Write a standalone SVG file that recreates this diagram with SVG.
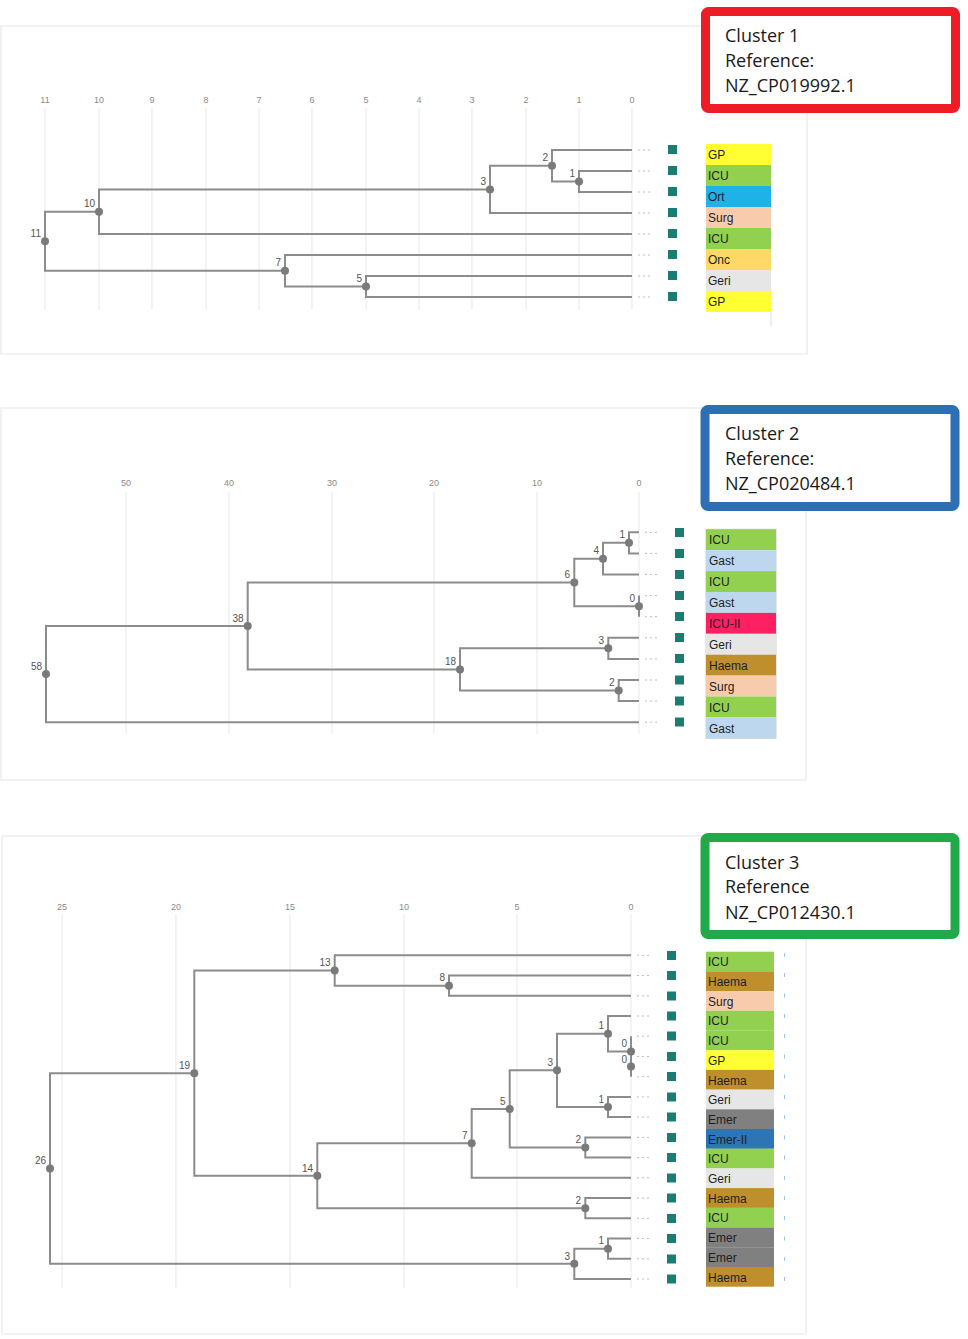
<svg xmlns="http://www.w3.org/2000/svg" width="968" height="1339" viewBox="0 0 968 1339">
<style>
.panel{fill:none;stroke:#e9e9e9;stroke-width:1.2}
.grid{stroke:#ececec;stroke-width:1.2}
.ax{font-family:"Liberation Sans",Arial,sans-serif;font-size:9px;fill:#8a8a8a;text-anchor:middle}
.br{fill:none;stroke:#8c8c8c;stroke-width:2}
.dot{fill:#7a7a7a}
.nl{font-family:"Liberation Sans",Arial,sans-serif;font-size:10px;fill:#555;text-anchor:end}
.dd{stroke:#bdbdbd;stroke-width:1;stroke-dasharray:2 3}
.sq{fill:#1b7c72}
.lab{font-family:"Liberation Sans",Arial,sans-serif;font-size:12px;fill:#1e1e1e}
.box{fill:#fff;stroke-width:9}
.bt{font-family:"Open Sans","Liberation Sans",sans-serif;font-size:18px;fill:#1a1a1a}
.tick{stroke:#9cc3e6;stroke-width:1}
.GP{fill:#ffff33}.ICU{fill:#92d050}.Ort{fill:#20b0ea}.Surg{fill:#f8cbad}.Onc{fill:#ffd966}.Geri{fill:#e7e6e6}.Gast{fill:#bdd7ee}.ICUII{fill:#ff2063}.Haema{fill:#bf8f2e}.Emer{fill:#808080}.EmerII{fill:#2e75b6}
</style>

<!-- ============ CLUSTER 1 ============ -->
<g id="panel1">
<rect class="panel" x="1" y="26" width="806" height="328"/>
<g id="axis1">
<line class="grid" x1="45" y1="108" x2="45" y2="310"/><line class="grid" x1="99" y1="108" x2="99" y2="310"/><line class="grid" x1="152" y1="108" x2="152" y2="310"/><line class="grid" x1="206" y1="108" x2="206" y2="310"/><line class="grid" x1="259" y1="108" x2="259" y2="310"/><line class="grid" x1="312" y1="108" x2="312" y2="310"/><line class="grid" x1="366" y1="108" x2="366" y2="310"/><line class="grid" x1="419" y1="108" x2="419" y2="310"/><line class="grid" x1="472" y1="108" x2="472" y2="310"/><line class="grid" x1="526" y1="108" x2="526" y2="310"/><line class="grid" x1="579" y1="108" x2="579" y2="310"/><line class="grid" x1="632" y1="108" x2="632" y2="310"/>
<text class="ax" x="45" y="103">11</text><text class="ax" x="99" y="103">10</text><text class="ax" x="152" y="103">9</text><text class="ax" x="206" y="103">8</text><text class="ax" x="259" y="103">7</text><text class="ax" x="312" y="103">6</text><text class="ax" x="366" y="103">5</text><text class="ax" x="419" y="103">4</text><text class="ax" x="472" y="103">3</text><text class="ax" x="526" y="103">2</text><text class="ax" x="579" y="103">1</text><text class="ax" x="632" y="103">0</text>
</g>
<line x1="771" y1="312" x2="771" y2="326" stroke="#dcdcdc" stroke-width="1"/>
</g>
<g id="connectors1">
<path class="br" d="M632 171H579V192H632"/>
<path class="br" d="M632 150H552V181.5H579"/>
<path class="br" d="M552 165.75H490V213H632"/>
<path class="br" d="M490 189.4H99V234H632"/>
<path class="br" d="M632 276H366V297H632"/>
<path class="br" d="M632 255H285V286.5H366"/>
<path class="br" d="M99 211.7H45V270.75H285"/>
</g>
<g id="nodes1">
<g id="c1n1"><circle class="dot" cx="579" cy="181.5" r="4"/><text class="nl" x="575" y="177">1</text></g>
<g id="c1n2"><circle class="dot" cx="552" cy="165.75" r="4"/><text class="nl" x="548" y="161">2</text></g>
<g id="c1n3"><circle class="dot" cx="490" cy="189.4" r="4"/><text class="nl" x="486" y="185">3</text></g>
<g id="c1n10"><circle class="dot" cx="99" cy="211.7" r="4"/><text class="nl" x="95" y="207">10</text></g>
<g id="c1n5"><circle class="dot" cx="366" cy="286.5" r="4"/><text class="nl" x="362" y="282">5</text></g>
<g id="c1n7"><circle class="dot" cx="285" cy="270.75" r="4"/><text class="nl" x="281" y="266">7</text></g>
<g id="c1n11"><circle class="dot" cx="45" cy="241.2" r="4"/><text class="nl" x="41" y="237">11</text></g>
</g>
<g id="leaves1">
<g id="c1l0"><line class="dd" x1="638" y1="150" x2="653" y2="150"/><rect class="sq" x="668" y="145" width="9" height="9"/><rect class="GP" x="706" y="144" width="65" height="21"/><text class="lab" x="708" y="159">GP</text></g>
<g id="c1l1"><line class="dd" x1="638" y1="171" x2="653" y2="171"/><rect class="sq" x="668" y="166" width="9" height="9"/><rect class="ICU" x="706" y="165" width="65" height="21"/><text class="lab" x="708" y="180">ICU</text></g>
<g id="c1l2"><line class="dd" x1="638" y1="192" x2="653" y2="192"/><rect class="sq" x="668" y="187" width="9" height="9"/><rect class="Ort" x="706" y="186" width="65" height="21"/><text class="lab" x="708" y="201">Ort</text></g>
<g id="c1l3"><line class="dd" x1="638" y1="213" x2="653" y2="213"/><rect class="sq" x="668" y="208" width="9" height="9"/><rect class="Surg" x="706" y="207" width="65" height="21"/><text class="lab" x="708" y="222">Surg</text></g>
<g id="c1l4"><line class="dd" x1="638" y1="234" x2="653" y2="234"/><rect class="sq" x="668" y="229" width="9" height="9"/><rect class="ICU" x="706" y="228" width="65" height="21"/><text class="lab" x="708" y="243">ICU</text></g>
<g id="c1l5"><line class="dd" x1="638" y1="255" x2="653" y2="255"/><rect class="sq" x="668" y="250" width="9" height="9"/><rect class="Onc" x="706" y="249" width="65" height="21"/><text class="lab" x="708" y="264">Onc</text></g>
<g id="c1l6"><line class="dd" x1="638" y1="276" x2="653" y2="276"/><rect class="sq" x="668" y="271" width="9" height="9"/><rect class="Geri" x="706" y="270" width="65" height="21"/><text class="lab" x="708" y="285">Geri</text></g>
<g id="c1l7"><line class="dd" x1="638" y1="297" x2="653" y2="297"/><rect class="sq" x="668" y="292" width="9" height="9"/><rect class="GP" x="706" y="291" width="65" height="21"/><text class="lab" x="708" y="306">GP</text></g>
</g>
<g id="box1">
<rect class="box" x="705.5" y="11.5" width="250" height="97" rx="3" stroke="#ee1c24"/>
<text class="bt" x="725" y="42">Cluster 1</text>
<text class="bt" x="725" y="67">Reference:</text>
<text class="bt" x="725" y="92">NZ_CP019992.1</text>
</g>

<!-- ============ CLUSTER 2 ============ -->
<g id="panel2">
<rect class="panel" x="1" y="408" width="805" height="372"/>
<g id="axis2">
<line class="grid" x1="126" y1="492" x2="126" y2="734"/><line class="grid" x1="229" y1="492" x2="229" y2="734"/><line class="grid" x1="332" y1="492" x2="332" y2="734"/><line class="grid" x1="434" y1="492" x2="434" y2="734"/><line class="grid" x1="537" y1="492" x2="537" y2="734"/><line class="grid" x1="639" y1="492" x2="639" y2="734"/>
<text class="ax" x="126" y="486">50</text><text class="ax" x="229" y="486">40</text><text class="ax" x="332" y="486">30</text><text class="ax" x="434" y="486">20</text><text class="ax" x="537" y="486">10</text><text class="ax" x="639" y="486">0</text>
</g>
</g>
<g id="connectors2">
<path class="br" d="M639 532.3H629V553.4H639"/>
<path class="br" d="M629 542.85H603V574.5H639"/>
<path class="br" d="M639 595.6V616.7"/>
<path class="br" d="M603 558.7H574.3V606.15H639"/>
<path class="br" d="M639 637.8H608.3V658.9H639"/>
<path class="br" d="M639 680H618.7V701.1H639"/>
<path class="br" d="M608.3 648.35H460V690.55H618.7"/>
<path class="br" d="M574.3 582.4H247.7V669.45H460"/>
<path class="br" d="M247.7 625.9H46V722.2H639"/>
</g>
<g id="nodes2">
<g id="c2n1"><circle class="dot" cx="629" cy="542.85" r="4"/><text class="nl" x="625" y="538">1</text></g>
<g id="c2n4"><circle class="dot" cx="603" cy="558.7" r="4"/><text class="nl" x="599" y="554">4</text></g>
<g id="c2n0"><circle class="dot" cx="639" cy="606.15" r="4"/><text class="nl" x="635" y="602">0</text></g>
<g id="c2n6"><circle class="dot" cx="574.3" cy="582.4" r="4"/><text class="nl" x="570" y="578">6</text></g>
<g id="c2n3"><circle class="dot" cx="608.3" cy="648.35" r="4"/><text class="nl" x="604" y="644">3</text></g>
<g id="c2n2"><circle class="dot" cx="618.7" cy="690.55" r="4"/><text class="nl" x="614.5" y="686">2</text></g>
<g id="c2n18"><circle class="dot" cx="460" cy="669.45" r="4"/><text class="nl" x="456" y="665">18</text></g>
<g id="c2n38"><circle class="dot" cx="247.7" cy="625.9" r="4"/><text class="nl" x="243.5" y="621.5">38</text></g>
<g id="c2n58"><circle class="dot" cx="46" cy="674.05" r="4"/><text class="nl" x="42" y="669.5">58</text></g>
</g>
<g id="leaves2">
<rect x="706" y="529.3" width="70" height="209" fill="none" stroke="#cfcfcf" stroke-width="1"/>
<g id="c2l0"><line class="dd" x1="645" y1="532.3" x2="660" y2="532.3"/><rect class="sq" x="675" y="528" width="9" height="9"/><rect class="ICU" x="706" y="529.3" width="70" height="20.9"/><text class="lab" x="709" y="544">ICU</text></g>
<g id="c2l1"><line class="dd" x1="645" y1="553.4" x2="660" y2="553.4"/><rect class="sq" x="675" y="549" width="9" height="9"/><rect class="Gast" x="706" y="550.2" width="70" height="20.9"/><text class="lab" x="709" y="565">Gast</text></g>
<g id="c2l2"><line class="dd" x1="645" y1="574.5" x2="660" y2="574.5"/><rect class="sq" x="675" y="570" width="9" height="9"/><rect class="ICU" x="706" y="571.1" width="70" height="20.9"/><text class="lab" x="709" y="586">ICU</text></g>
<g id="c2l3"><line class="dd" x1="645" y1="595.6" x2="660" y2="595.6"/><rect class="sq" x="675" y="591" width="9" height="9"/><rect class="Gast" x="706" y="592" width="70" height="20.9"/><text class="lab" x="709" y="607">Gast</text></g>
<g id="c2l4"><line class="dd" x1="645" y1="616.7" x2="660" y2="616.7"/><rect class="sq" x="675" y="612" width="9" height="9"/><rect class="ICUII" x="706" y="612.9" width="70" height="20.9"/><text class="lab" x="709" y="628">ICU-II</text></g>
<g id="c2l5"><line class="dd" x1="645" y1="637.8" x2="660" y2="637.8"/><rect class="sq" x="675" y="633" width="9" height="9"/><rect class="Geri" x="706" y="633.8" width="70" height="20.9"/><text class="lab" x="709" y="649">Geri</text></g>
<g id="c2l6"><line class="dd" x1="645" y1="658.9" x2="660" y2="658.9"/><rect class="sq" x="675" y="654" width="9" height="9"/><rect class="Haema" x="706" y="654.7" width="70" height="20.9"/><text class="lab" x="709" y="670">Haema</text></g>
<g id="c2l7"><line class="dd" x1="645" y1="680" x2="660" y2="680"/><rect class="sq" x="675" y="675.5" width="9" height="9"/><rect class="Surg" x="706" y="675.6" width="70" height="20.9"/><text class="lab" x="709" y="691">Surg</text></g>
<g id="c2l8"><line class="dd" x1="645" y1="701.1" x2="660" y2="701.1"/><rect class="sq" x="675" y="696.5" width="9" height="9"/><rect class="ICU" x="706" y="696.5" width="70" height="20.9"/><text class="lab" x="709" y="712">ICU</text></g>
<g id="c2l9"><line class="dd" x1="645" y1="722.2" x2="660" y2="722.2"/><rect class="sq" x="675" y="717.5" width="9" height="9"/><rect class="Gast" x="706" y="717.4" width="70" height="20.9"/><text class="lab" x="709" y="733">Gast</text></g>
</g>
<g id="box2">
<rect class="box" x="705" y="409.5" width="250" height="97" rx="3" stroke="#2e6fb4"/>
<text class="bt" x="725" y="440">Cluster 2</text>
<text class="bt" x="725" y="465">Reference:</text>
<text class="bt" x="725" y="490">NZ_CP020484.1</text>
</g>

<!-- ============ CLUSTER 3 ============ -->
<g id="panel3">
<rect class="panel" x="2" y="836" width="804" height="498"/>
<g id="axis3">
<line class="grid" x1="62" y1="914" x2="62" y2="1288"/><line class="grid" x1="176" y1="914" x2="176" y2="1288"/><line class="grid" x1="290" y1="914" x2="290" y2="1288"/><line class="grid" x1="404" y1="914" x2="404" y2="1288"/><line class="grid" x1="517" y1="914" x2="517" y2="1288"/><line class="grid" x1="631" y1="914" x2="631" y2="1288"/>
<text class="ax" x="62" y="910">25</text><text class="ax" x="176" y="910">20</text><text class="ax" x="290" y="910">15</text><text class="ax" x="404" y="910">10</text><text class="ax" x="517" y="910">5</text><text class="ax" x="631" y="910">0</text>
</g>
</g>
<g id="connectors3">
<path class="br" d="M631 975.5H449V995.8H631"/>
<path class="br" d="M631 955.3H334.7V985.65H449"/>
<path class="br" d="M631 1036.2V1076.7"/>
<path class="br" d="M631 1016H608V1051.4H631"/>
<path class="br" d="M631 1096.9H608V1117.1H631"/>
<path class="br" d="M608 1033.7H557V1107H608"/>
<path class="br" d="M631 1137.4H585.3V1157.6H631"/>
<path class="br" d="M557 1070.35H509.7V1147.5H585.3"/>
<path class="br" d="M509.7 1108.9H471.7V1177.8H631"/>
<path class="br" d="M631 1198.1H585.3V1218.3H631"/>
<path class="br" d="M471.7 1143.35H317.3V1208.2H585.3"/>
<path class="br" d="M334.7 970.5H194.3V1175.8H317.3"/>
<path class="br" d="M631 1238.5H608V1258.8H631"/>
<path class="br" d="M608 1248.65H574.3V1279H631"/>
<path class="br" d="M194.3 1073.15H50V1263.8H574.3"/>
</g>
<g id="nodes3">
<g id="c3n13"><circle class="dot" cx="334.7" cy="970.5" r="4"/><text class="nl" x="330.5" y="966">13</text></g>
<g id="c3n8"><circle class="dot" cx="449" cy="985.65" r="4"/><text class="nl" x="445" y="981">8</text></g>
<g id="c3n1a"><circle class="dot" cx="608" cy="1033.7" r="4"/><text class="nl" x="604" y="1029">1</text></g>
<g id="c3n0a"><circle class="dot" cx="631" cy="1051.4" r="4"/><text class="nl" x="627" y="1047">0</text></g>
<g id="c3n0b"><circle class="dot" cx="631" cy="1066.6" r="4"/><text class="nl" x="627" y="1062.5">0</text></g>
<g id="c3n1b"><circle class="dot" cx="608" cy="1107" r="4"/><text class="nl" x="604" y="1102.5">1</text></g>
<g id="c3n3a"><circle class="dot" cx="557" cy="1070.35" r="4"/><text class="nl" x="553" y="1066">3</text></g>
<g id="c3n2a"><circle class="dot" cx="585.3" cy="1147.5" r="4"/><text class="nl" x="581" y="1143">2</text></g>
<g id="c3n5"><circle class="dot" cx="509.7" cy="1108.9" r="4"/><text class="nl" x="505.5" y="1104.5">5</text></g>
<g id="c3n7"><circle class="dot" cx="471.7" cy="1143.35" r="4"/><text class="nl" x="467.5" y="1139">7</text></g>
<g id="c3n2b"><circle class="dot" cx="585.3" cy="1208.2" r="4"/><text class="nl" x="581" y="1204">2</text></g>
<g id="c3n14"><circle class="dot" cx="317.3" cy="1175.8" r="4"/><text class="nl" x="313" y="1171.5">14</text></g>
<g id="c3n19"><circle class="dot" cx="194.3" cy="1073.15" r="4"/><text class="nl" x="190" y="1069">19</text></g>
<g id="c3n1c"><circle class="dot" cx="608" cy="1248.65" r="4"/><text class="nl" x="604" y="1244">1</text></g>
<g id="c3n3b"><circle class="dot" cx="574.3" cy="1263.8" r="4"/><text class="nl" x="570" y="1259.5">3</text></g>
<g id="c3n26"><circle class="dot" cx="50" cy="1168.5" r="4"/><text class="nl" x="46" y="1164">26</text></g>
</g>
<g id="leaves3">
<g id="c3l0"><line class="dd" x1="637" y1="955.3" x2="652" y2="955.3"/><rect class="sq" x="667" y="951" width="9" height="9"/><rect class="ICU" x="706" y="951.7" width="68" height="19.8"/><text class="lab" x="708" y="966">ICU</text><line class="tick" x1="784.5" y1="953" x2="784.5" y2="957"/></g>
<g id="c3l1"><line class="dd" x1="637" y1="975.5" x2="652" y2="975.5"/><rect class="sq" x="667" y="971" width="9" height="9"/><rect class="Haema" x="706" y="971.4" width="68" height="19.8"/><text class="lab" x="708" y="986">Haema</text><line class="tick" x1="784.5" y1="973" x2="784.5" y2="977"/></g>
<g id="c3l2"><line class="dd" x1="637" y1="995.8" x2="652" y2="995.8"/><rect class="sq" x="667" y="991.5" width="9" height="9"/><rect class="Surg" x="706" y="991.1" width="68" height="19.8"/><text class="lab" x="708" y="1006">Surg</text><line class="tick" x1="784.5" y1="993.5" x2="784.5" y2="997.5"/></g>
<g id="c3l3"><line class="dd" x1="637" y1="1016" x2="652" y2="1016"/><rect class="sq" x="667" y="1011.5" width="9" height="9"/><rect class="ICU" x="706" y="1010.8" width="68" height="19.8"/><text class="lab" x="708" y="1025">ICU</text><line class="tick" x1="784.5" y1="1014" x2="784.5" y2="1018"/></g>
<g id="c3l4"><line class="dd" x1="637" y1="1036.2" x2="652" y2="1036.2"/><rect class="sq" x="667" y="1031.5" width="9" height="9"/><rect class="ICU" x="706" y="1030.5" width="68" height="19.8"/><text class="lab" x="708" y="1045">ICU</text><line class="tick" x1="784.5" y1="1034" x2="784.5" y2="1038"/></g>
<g id="c3l5"><line class="dd" x1="637" y1="1056.5" x2="652" y2="1056.5"/><rect class="sq" x="667" y="1052" width="9" height="9"/><rect class="GP" x="706" y="1050.2" width="68" height="19.8"/><text class="lab" x="708" y="1065">GP</text><line class="tick" x1="784.5" y1="1054.5" x2="784.5" y2="1058.5"/></g>
<g id="c3l6"><line class="dd" x1="637" y1="1076.7" x2="652" y2="1076.7"/><rect class="sq" x="667" y="1072" width="9" height="9"/><rect class="Haema" x="706" y="1069.9" width="68" height="19.8"/><text class="lab" x="708" y="1085">Haema</text><line class="tick" x1="784.5" y1="1074.5" x2="784.5" y2="1078.5"/></g>
<g id="c3l7"><line class="dd" x1="637" y1="1096.9" x2="652" y2="1096.9"/><rect class="sq" x="667" y="1092.5" width="9" height="9"/><rect class="Geri" x="706" y="1089.6" width="68" height="19.8"/><text class="lab" x="708" y="1104">Geri</text><line class="tick" x1="784.5" y1="1095" x2="784.5" y2="1099"/></g>
<g id="c3l8"><line class="dd" x1="637" y1="1117.1" x2="652" y2="1117.1"/><rect class="sq" x="667" y="1112.5" width="9" height="9"/><rect class="Emer" x="706" y="1109.3" width="68" height="19.8"/><text class="lab" x="708" y="1124">Emer</text><line class="tick" x1="784.5" y1="1115" x2="784.5" y2="1119"/></g>
<g id="c3l9"><line class="dd" x1="637" y1="1137.4" x2="652" y2="1137.4"/><rect class="sq" x="667" y="1133" width="9" height="9"/><rect class="EmerII" x="706" y="1129" width="68" height="19.8"/><text class="lab" x="708" y="1144">Emer-II</text><line class="tick" x1="784.5" y1="1135.5" x2="784.5" y2="1139.5"/></g>
<g id="c3l10"><line class="dd" x1="637" y1="1157.6" x2="652" y2="1157.6"/><rect class="sq" x="667" y="1153" width="9" height="9"/><rect class="ICU" x="706" y="1148.7" width="68" height="19.8"/><text class="lab" x="708" y="1163">ICU</text><line class="tick" x1="784.5" y1="1155.5" x2="784.5" y2="1159.5"/></g>
<g id="c3l11"><line class="dd" x1="637" y1="1177.8" x2="652" y2="1177.8"/><rect class="sq" x="667" y="1173.5" width="9" height="9"/><rect class="Geri" x="706" y="1168.4" width="68" height="19.8"/><text class="lab" x="708" y="1183">Geri</text><line class="tick" x1="784.5" y1="1176" x2="784.5" y2="1180"/></g>
<g id="c3l12"><line class="dd" x1="637" y1="1198.1" x2="652" y2="1198.1"/><rect class="sq" x="667" y="1193.5" width="9" height="9"/><rect class="Haema" x="706" y="1188.1" width="68" height="19.8"/><text class="lab" x="708" y="1203">Haema</text><line class="tick" x1="784.5" y1="1196" x2="784.5" y2="1200"/></g>
<g id="c3l13"><line class="dd" x1="637" y1="1218.3" x2="652" y2="1218.3"/><rect class="sq" x="667" y="1214" width="9" height="9"/><rect class="ICU" x="706" y="1207.8" width="68" height="19.8"/><text class="lab" x="708" y="1222">ICU</text><line class="tick" x1="784.5" y1="1216" x2="784.5" y2="1220"/></g>
<g id="c3l14"><line class="dd" x1="637" y1="1238.5" x2="652" y2="1238.5"/><rect class="sq" x="667" y="1234" width="9" height="9"/><rect class="Emer" x="706" y="1227.5" width="68" height="19.8"/><text class="lab" x="708" y="1242">Emer</text><line class="tick" x1="784.5" y1="1236.5" x2="784.5" y2="1240.5"/></g>
<g id="c3l15"><line class="dd" x1="637" y1="1258.8" x2="652" y2="1258.8"/><rect class="sq" x="667" y="1254.5" width="9" height="9"/><rect class="Emer" x="706" y="1247.2" width="68" height="19.8"/><text class="lab" x="708" y="1262">Emer</text><line class="tick" x1="784.5" y1="1257" x2="784.5" y2="1261"/></g>
<g id="c3l16"><line class="dd" x1="637" y1="1279" x2="652" y2="1279"/><rect class="sq" x="667" y="1274.5" width="9" height="9"/><rect class="Haema" x="706" y="1266.9" width="68" height="19.8"/><text class="lab" x="708" y="1282">Haema</text><line class="tick" x1="784.5" y1="1277" x2="784.5" y2="1281"/></g>
</g>
<g id="box3">
<rect class="box" x="705" y="837.5" width="250" height="97" rx="3" stroke="#22aa4a"/>
<text class="bt" x="725" y="869">Cluster 3</text>
<text class="bt" x="725" y="893">Reference</text>
<text class="bt" x="725" y="919">NZ_CP012430.1</text>
</g>
</svg>
